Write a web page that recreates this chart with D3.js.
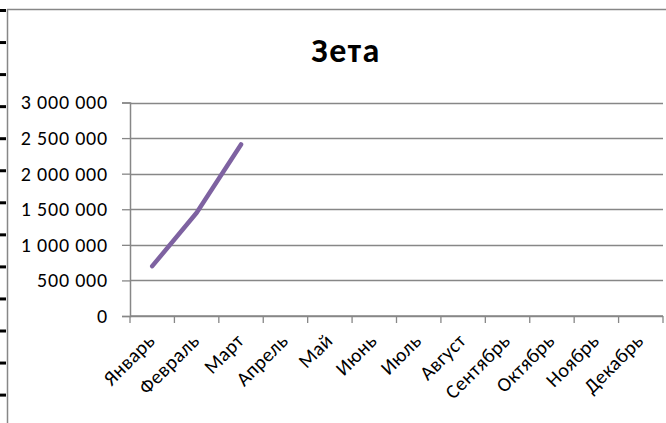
<!DOCTYPE html>
<html>
<head>
<meta charset="utf-8">
<script src="https://cdn.jsdelivr.net/npm/d3@7"></script>
<style>
  body { margin: 0; background: #fff; }
  svg { display: block; font-family: Carlito, Calibri, Lato, sans-serif; }
</style>
</head>
<body>
<div id="chart"></div>
<script>
// data
var months = ["Январь", "Февраль", "Март", "Апрель", "Май", "Июнь",
    "Июль", "Август", "Сентябрь", "Октябрь", "Ноябрь", "Декабрь"];
var values = [700000, 1450000, 2410000, null, null, null,
    null, null, null, null, null, null];
var yTicks = [0, 500000, 1000000, 1500000, 2000000, 2500000, 3000000];
var title = "Зета";

var W = 666, H = 423;
var plot = { left: 130, right: 663, top: 102.5, bottom: 316 };
var gray = "#878787";

var svg = d3.select("#chart").append("svg")
    .attr("width", W)
    .attr("height", H);

// sheet frame around the chart
svg.append("line")
    .attr("x1", 7.5).attr("x2", 7.5).attr("y1", 9).attr("y2", H)
    .attr("stroke", gray).attr("stroke-width", 1.5);
svg.append("line")
    .attr("x1", 7).attr("x2", W).attr("y1", 9.5).attr("y2", 9.5)
    .attr("stroke", gray).attr("stroke-width", 1.5);

// little row marks on the outer left edge
svg.append("g").selectAll("line")
    .data(d3.range(13))
    .enter().append("line")
    .attr("x1", 0).attr("x2", 6)
    .attr("y1", function (i) { return 10.5 + i * 32.05; })
    .attr("y2", function (i) { return 10.5 + i * 32.05; })
    .attr("stroke", "#000").attr("stroke-width", 3);

// title
svg.append("text")
    .attr("x", 346)
    .attr("y", 62)
    .attr("text-anchor", "middle")
    .style("font-weight", "bold")
    .style("font-size", "34px")
    .style("letter-spacing", "1.5px")
    .text(title);

var x = d3.scaleBand()
    .domain(months)
    .range([plot.left, plot.right])
    .padding(0);
var y = d3.scaleLinear()
    .domain([0, 3000000])
    .range([plot.bottom, plot.top]);

var ru = d3.formatLocale({ decimal: ",", thousands: "\u00a0", grouping: [3], currency: ["", ""] });
var fmt = ru.format(",d");

// gridlines
svg.append("g").selectAll("line")
    .data(yTicks)
    .enter().append("line")
    .attr("x1", plot.left).attr("x2", plot.right)
    .attr("y1", function (d) { return Math.round(y(d)) + 0.5; })
    .attr("y2", function (d) { return Math.round(y(d)) + 0.5; })
    .attr("stroke", gray).attr("stroke-width", 1.3);

// y axis
var yAxis = svg.append("g")
    .attr("transform", "translate(" + plot.left + ",0)")
    .call(d3.axisLeft(y).tickValues(yTicks).tickSize(8).tickPadding(14).tickFormat(fmt));
yAxis.selectAll("line").attr("stroke", gray).attr("stroke-width", 1.3);
yAxis.select(".domain").attr("stroke", gray).attr("stroke-width", 1.5);
yAxis.selectAll("text")
    .attr("fill", "#000")
    .style("font-family", "Carlito, Calibri, Lato, sans-serif")
    .style("font-size", "20px")
    .style("letter-spacing", "0.8px");

// x axis: line plus ticks between categories
var xg = svg.append("g");
xg.append("line")
    .attr("x1", plot.left).attr("x2", plot.right)
    .attr("y1", plot.bottom).attr("y2", plot.bottom)
    .attr("stroke", gray).attr("stroke-width", 1.5);
xg.selectAll(".tk")
    .data(months.concat(["end"]))
    .enter().append("line")
    .attr("class", "tk")
    .attr("x1", function (d, i) { return i < months.length ? x(d) : plot.right; })
    .attr("x2", function (d, i) { return i < months.length ? x(d) : plot.right; })
    .attr("y1", plot.bottom).attr("y2", plot.bottom + 7)
    .attr("stroke", gray).attr("stroke-width", 1.3);
xg.selectAll(".lbl")
    .data(months)
    .enter().append("text")
    .attr("class", "lbl")
    .attr("text-anchor", "end")
    .attr("transform", function (d) {
        return "translate(" + (x(d) + x.bandwidth() / 2 + 4) + "," + (plot.bottom + 26) + ") rotate(-45)";
    })
    .style("font-size", "20px")
    .style("letter-spacing", "0.4px")
    .text(function (d) { return d; });

// series line
var line = d3.line()
    .defined(function (d) { return d != null; })
    .x(function (d, i) { return x(months[i]) + x.bandwidth() / 2; })
    .y(function (d) { return y(d); });

svg.append("path")
    .datum(values)
    .attr("d", line)
    .attr("fill", "none")
    .attr("stroke", "#7E62A1")
    .attr("stroke-width", 4.5)
    .attr("stroke-linecap", "round")
    .attr("stroke-linejoin", "round");
</script>
</body>
</html>
